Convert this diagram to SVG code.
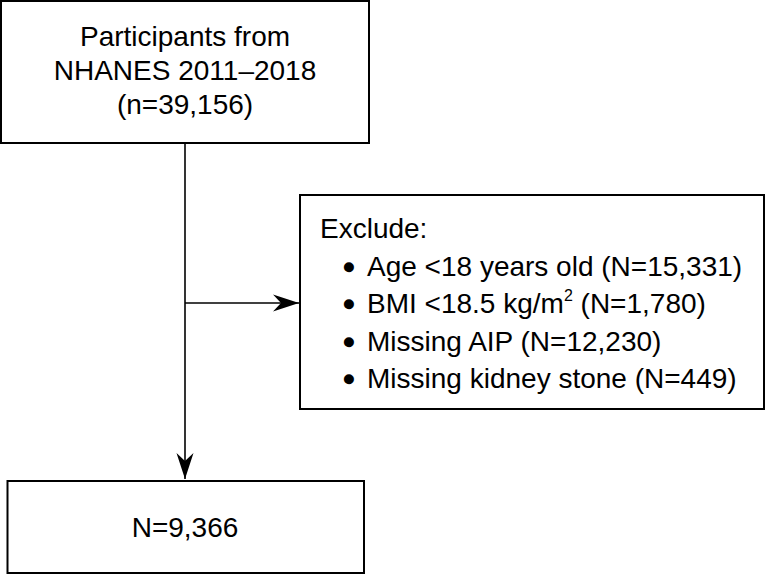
<svg xmlns="http://www.w3.org/2000/svg" width="767" height="574" viewBox="0 0 767 574">
<defs>
<style>
.box{fill:#fff;stroke:#000;stroke-width:2}
.t{font-family:"Liberation Sans",Arial,Helvetica,sans-serif;font-size:28px;fill:#000}
.c{text-anchor:middle}
.b{stroke:#000;stroke-width:2.4;stroke-linejoin:round}
.line{stroke:#000;stroke-width:1.6;fill:none}
</style>
<marker id="arr" markerUnits="userSpaceOnUse" markerWidth="30" markerHeight="20" viewBox="-27 -10 28 20" refX="0" refY="0" orient="auto">
<path d="M0,0 L-26,-8.5 L-18,0 L-26,8.5 Z" fill="#000"/>
</marker>
</defs>
<rect width="767" height="574" fill="#fff"/>
<g id="connectors">
<line class="line" x1="185" y1="143" x2="185" y2="479" marker-end="url(#arr)"/>
<line class="line" x1="185" y1="303" x2="299" y2="303" marker-end="url(#arr)"/>
</g>
<g id="start">
<rect class="box" x="1" y="1" width="368" height="142"/>
<text class="t c" x="185" y="46" font-size="28.6">Participants from</text>
<text class="t c" x="185" y="80">NHANES 2011–2018</text>
<text class="t c" x="185" y="114">(n=39,156)</text>
</g>
<g id="exclude">
<rect class="box" x="300" y="195" width="464" height="214"/>
<text class="t" x="320" y="238">Exclude:</text>
<text class="t" x="344" y="276"><tspan class="b">•</tspan><tspan x="367">Age &lt;18 years old (N=15,331)</tspan></text>
<text class="t" x="344" y="313"><tspan class="b">•</tspan><tspan x="367">BMI &lt;18.5 kg/m</tspan><tspan font-size="16" dy="-12">2</tspan><tspan dy="12"> (N=1,780)</tspan></text>
<text class="t" x="344" y="351"><tspan class="b">•</tspan><tspan x="367">Missing AIP (N=12,230)</tspan></text>
<text class="t" x="344" y="388"><tspan class="b">•</tspan><tspan x="367">Missing kidney stone (N=449)</tspan></text>
</g>
<g id="result">
<rect class="box" x="7.5" y="481" width="356.5" height="92"/>
<text class="t c" x="185" y="537">N=9,366</text>
</g>
</svg>
